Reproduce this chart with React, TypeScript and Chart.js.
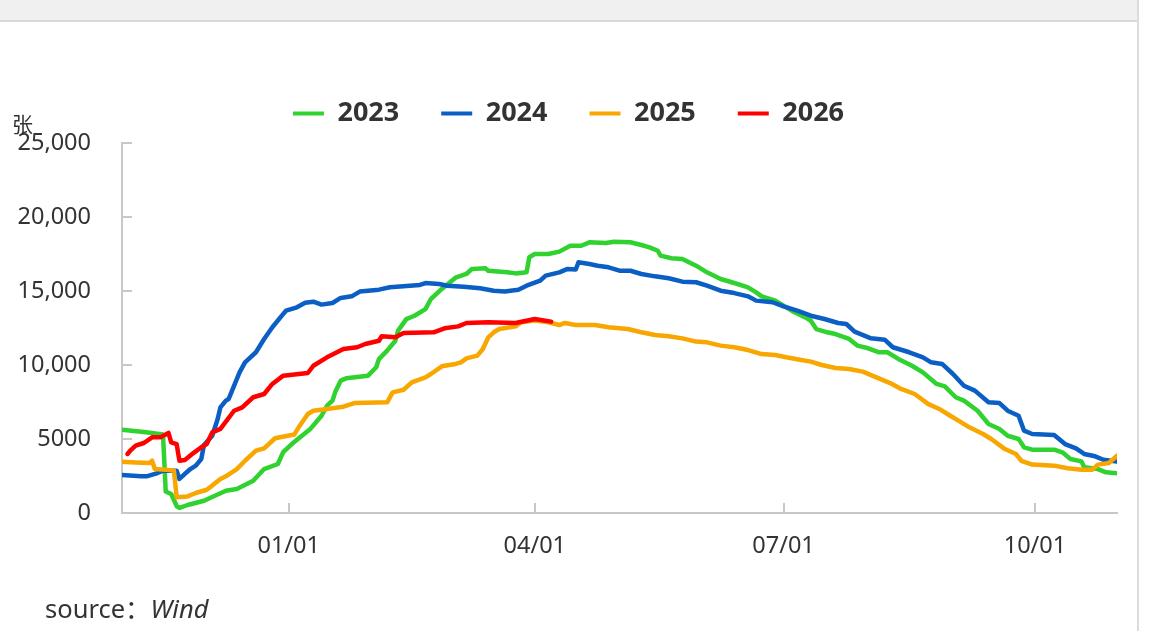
import React, { useEffect, useRef } from 'react';
import { Chart, registerables } from 'chart.js';

Chart.register(...registerables);

// ---- data ----
const seriesLabels = ['2023', '2024', '2025', '2026'];
const seriesColors = ['#30d22f', '#0b5fc4', '#f7a700', '#ff0000'];

const yTickValues = [0, 5000, 10000, 15000, 20000, 25000];
const yTickLabels = ['0', '5000', '10,000', '15,000', '20,000', '25,000'];
const xTickDates = ['01/01', '04/01', '07/01', '10/01'];
const xRange = ['11/01', '10/31'];

const data2023: [string, number][] = [
  ['11/01', 5630], ['11/09', 5470], ['11/16', 5300], ['11/17', 1450], ['11/19', 1280],
  ['11/21', 470], ['11/22', 340], ['11/25', 540], ['12/01', 830], ['12/09', 1500],
  ['12/13', 1620], ['12/19', 2180], ['12/23', 2970], ['12/28', 3310], ['12/30', 4120],
  ['01/03', 4800], ['01/09', 5700], ['01/13', 6570], ['01/15', 7250], ['01/17', 7590],
  ['01/18', 8170], ['01/20', 8940], ['01/22', 9100], ['01/30', 9280], ['02/02', 9850],
  ['02/03', 10400], ['02/06', 10970], ['02/09', 11640], ['02/10', 12320], ['02/13', 13100],
  ['02/16', 13330], ['02/20', 13780], ['02/22', 14460], ['02/26', 15140], ['03/01', 15590],
  ['03/03', 15900], ['03/07', 16150], ['03/09', 16490], ['03/14', 16530], ['03/15', 16370],
  ['03/22', 16260], ['03/25', 16190], ['03/29', 16260], ['03/30', 17280], ['04/01', 17500],
  ['04/06', 17500], ['04/10', 17660], ['04/14', 18060], ['04/18', 18060], ['04/21', 18290],
  ['04/27', 18240], ['04/30', 18330], ['05/06', 18290], ['05/10', 18110], ['05/13', 17950],
  ['05/16', 17720], ['05/17', 17390], ['05/21', 17210], ['05/25', 17160], ['05/30', 16710],
  ['06/03', 16260], ['06/08', 15810], ['06/13', 15540], ['06/18', 15250], ['06/21', 14910],
  ['06/23', 14640], ['06/28', 14350], ['07/01', 14010], ['07/05', 13560], ['07/09', 13220],
  ['07/11', 12990], ['07/13', 12430], ['07/17', 12210], ['07/20', 12090], ['07/25', 11760],
  ['07/28', 11310], ['08/01', 11130], ['08/05', 10860], ['08/08', 10860], ['08/12', 10410],
  ['08/17', 9950], ['08/21', 9500], ['08/26', 8720], ['08/29', 8560], ['09/02', 7820],
  ['09/05', 7590], ['09/10', 6910], ['09/14', 6010], ['09/18', 5680], ['09/21', 5220],
  ['09/25', 5000], ['09/27', 4440], ['09/30', 4280], ['10/08', 4280], ['10/11', 4100],
  ['10/14', 3650], ['10/18', 3490], ['10/19', 3090], ['10/24', 2970], ['10/27', 2750],
  ['10/31', 2680],
];

const data2024: [string, number][] = [
  ['11/01', 2570], ['11/08', 2480], ['11/10', 2480], ['11/14', 2700], ['11/16', 2860],
  ['11/21', 2860], ['11/22', 2300], ['11/24', 2640], ['11/26', 2970], ['11/28', 3200],
  ['11/30', 3650], ['12/01', 4600], ['12/04', 5220], ['12/06', 6350], ['12/07', 7140],
  ['12/09', 7590], ['12/10', 7700], ['12/14', 9500], ['12/16', 10180], ['12/20', 10860],
  ['12/23', 11760], ['12/26', 12550], ['12/30', 13450], ['12/31', 13670], ['01/04', 13900],
  ['01/07', 14200], ['01/10', 14280], ['01/13', 14080], ['01/17', 14190], ['01/20', 14530],
  ['01/24', 14640], ['01/27', 14960], ['02/03', 15090], ['02/07', 15250], ['02/18', 15410],
  ['02/20', 15540], ['02/25', 15470], ['02/28', 15360], ['03/06', 15290], ['03/12', 15180],
  ['03/17', 15020], ['03/21', 14960], ['03/26', 15090], ['03/29', 15360], ['04/03', 15700],
  ['04/05', 16040], ['04/10', 16260], ['04/13', 16490], ['04/16', 16450], ['04/17', 16940],
  ['04/21', 16820], ['04/24', 16710], ['04/28', 16600], ['05/02', 16370], ['05/06', 16370],
  ['05/10', 16150], ['05/15', 15990], ['05/20', 15860], ['05/25', 15630], ['05/30', 15590],
  ['06/03', 15360], ['06/08', 15020], ['06/13', 14860], ['06/18', 14640], ['06/21', 14350],
  ['06/27', 14240], ['07/01', 13960], ['07/06', 13670], ['07/11', 13330], ['07/16', 13110],
  ['07/21', 12840], ['07/24', 12770], ['07/27', 12250], ['08/02', 11800], ['08/07', 11710],
  ['08/10', 11200], ['08/16', 10860], ['08/21', 10520], ['08/24', 10180], ['08/28', 10070],
  ['09/01', 9390], ['09/05', 8600], ['09/09', 8270], ['09/14', 7480], ['09/18', 7430],
  ['09/21', 6910], ['09/25', 6570], ['09/27', 5560], ['09/30', 5340], ['10/08', 5270],
  ['10/12', 4660], ['10/16', 4370], ['10/19', 3990], ['10/23', 3830], ['10/26', 3600],
  ['10/31', 3470],
];

const data2025: [string, number][] = [
  ['11/01', 3470], ['11/06', 3420], ['11/11', 3380], ['11/12', 3530], ['11/13', 2970],
  ['11/17', 2930], ['11/20', 2860], ['11/21', 1060], ['11/25', 1120], ['11/28', 1350],
  ['12/02', 1570], ['12/04', 1850], ['12/07', 2300], ['12/09', 2480], ['12/13', 2970],
  ['12/16', 3530], ['12/20', 4210], ['12/23', 4370], ['12/27', 5050], ['01/03', 5300],
  ['01/05', 5900], ['01/08', 6690], ['01/10', 6910], ['01/15', 7030], ['01/21', 7180],
  ['01/25', 7430], ['02/06', 7480], ['02/08', 8150], ['02/12', 8330], ['02/15', 8830],
  ['02/20', 9160], ['02/22', 9390], ['02/26', 9910], ['03/03', 10070], ['03/05', 10180],
  ['03/07', 10450], ['03/11', 10630], ['03/13', 11080], ['03/15', 11870], ['03/17', 12210],
  ['03/19', 12430], ['03/25', 12610], ['03/27', 12890], ['04/01', 13000], ['04/06', 12890],
  ['04/10', 12700], ['04/12', 12840], ['04/16', 12700], ['04/23', 12700], ['04/28', 12550],
  ['05/05', 12430], ['05/10', 12210], ['05/15', 12030], ['05/20', 11940], ['05/25', 11800],
  ['05/30', 11580], ['06/03', 11530], ['06/08', 11310], ['06/13', 11200], ['06/18', 11010],
  ['06/23', 10740], ['06/28', 10680], ['07/02', 10520], ['07/07', 10360], ['07/11', 10230],
  ['07/15', 10000], ['07/20', 9800], ['07/25', 9730], ['07/30', 9550], ['08/04', 9160],
  ['08/09', 8780], ['08/13', 8380], ['08/18', 8040], ['08/23', 7360], ['08/27', 7030],
  ['08/31', 6570], ['09/03', 6240], ['09/07', 5790], ['09/12', 5340], ['09/15', 5000],
  ['09/20', 4320], ['09/24', 3990], ['09/26', 3530], ['09/30', 3270], ['10/08', 3200],
  ['10/13', 3020], ['10/18', 2930], ['10/22', 2930], ['10/24', 3270], ['10/28', 3380],
  ['10/31', 3870],
];

const data2026: [string, number][] = [
  ['11/03', 3990], ['11/04', 4210], ['11/06', 4550], ['11/09', 4730], ['11/12', 5110],
  ['11/15', 5110], ['11/18', 5410], ['11/19', 4770], ['11/21', 4660], ['11/22', 3530],
  ['11/24', 3580], ['11/27', 4030], ['11/30', 4440], ['12/02', 4660], ['12/04', 5450],
  ['12/07', 5680], ['12/12', 6910], ['12/15', 7140], ['12/19', 7820], ['12/23', 8040],
  ['12/26', 8720], ['12/30', 9280], ['01/08', 9460], ['01/10', 9950], ['01/15', 10520],
  ['01/21', 11080], ['01/26', 11200], ['01/29', 11420], ['02/03', 11640], ['02/04', 11940],
  ['02/09', 11870], ['02/12', 12160], ['02/23', 12210], ['02/27', 12480], ['03/04', 12610],
  ['03/07', 12840], ['03/15', 12890], ['03/25', 12840], ['04/01', 13110], ['04/07', 12930],
];

const seriesData = [data2023, data2024, data2025, data2026];

// season day index (Nov 1 = 0) from "MM/DD"
const monthStart: Record<string, number> = {
  '11': 0, '12': 30, '01': 61, '02': 92, '03': 120, '04': 151,
  '05': 181, '06': 212, '07': 242, '08': 273, '09': 304, '10': 334,
};
const dayOf = (md: string) => monthStart[md.slice(0, 2)] + Number(md.slice(3)) - 1;

const FONT = '"Noto Sans", "Open Sans", sans-serif';

const legendMargin = {
  id: 'legendMargin',
  beforeInit(chart: any) {
    const legend = chart.legend;
    if (!legend) return;
    const fit = legend.fit;
    legend.fit = function () {
      fit.call(this);
      this.height += 6;
    };
  },
};

const innerTicks = {
  id: 'innerTicks',
  beforeDatasetsDraw(chart: any) {
    const { ctx, chartArea, scales } = chart;
    ctx.save();
    ctx.strokeStyle = '#c8c8c8';
    ctx.lineWidth = 2;
    scales.y.ticks.forEach((t: any) => {
      const y = Math.round(scales.y.getPixelForValue(t.value));
      ctx.beginPath();
      ctx.moveTo(chartArea.left, y);
      ctx.lineTo(chartArea.left + 10, y);
      ctx.stroke();
    });
    scales.x.ticks.forEach((t: any) => {
      const x = Math.round(scales.x.getPixelForValue(t.value));
      ctx.beginPath();
      ctx.moveTo(x, chartArea.bottom);
      ctx.lineTo(x, chartArea.bottom - 10);
      ctx.stroke();
    });
    ctx.restore();
  },
};

export default function App() {
  const ref = useRef<HTMLCanvasElement>(null);

  useEffect(() => {
    if (!ref.current) return;
    const datasets = seriesLabels.map((label, i) => ({
      label,
      data: seriesData[i].map(([d, v]) => ({ x: dayOf(d), y: v })),
      borderColor: seriesColors[i],
      backgroundColor: seriesColors[i],
      borderWidth: 4.5,
      pointRadius: 0,
      pointHoverRadius: 0,
      tension: 0,
      fill: false,
      borderJoinStyle: 'round' as const,
      borderCapStyle: 'round' as const,
      order: seriesLabels.length - i,
    }));

    const chart = new Chart(ref.current, {
      type: 'line',
      data: { datasets },
      options: {
        animation: false,
        responsive: false,
        layout: { padding: { top: 58, right: 0, left: 0, bottom: 0 } },
        plugins: {
          tooltip: { enabled: false },
          legend: {
            display: true,
            position: 'top',
            labels: {
              boxWidth: 31,
              boxHeight: 4,
              padding: 42,
              color: '#333',
              font: { family: FONT, size: 27, weight: 'bold' },
              sort: (a: any, b: any) => a.datasetIndex - b.datasetIndex,
              generateLabels: (c: any) =>
                (Chart.defaults.plugins.legend.labels.generateLabels as any)(c).map((l: any) => ({
                  ...l,
                  lineWidth: 0,
                })),
            },
          },
        },
        scales: {
          x: {
            type: 'linear',
            min: dayOf(xRange[0]),
            max: dayOf(xRange[1]),
            grid: { display: true, drawOnChartArea: false, drawTicks: false },
            border: { display: true, color: '#c8c8c8', width: 2 },
            afterBuildTicks: (scale: any) => {
              scale.ticks = xTickDates.map((d) => ({ value: dayOf(d) }));
            },
            afterFit: (scale: any) => {
              scale.height = 118;
            },
            ticks: {
              autoSkip: false,
              maxRotation: 0,
              padding: 19,
              color: '#333',
              font: { family: FONT, size: 23.5 },
              callback: (value: any) => {
                const idx = xTickDates.findIndex((d) => dayOf(d) === value);
                return idx >= 0 ? xTickDates[idx] : '';
              },
            },
          },
          y: {
            type: 'linear',
            position: 'left',
            min: yTickValues[0],
            max: yTickValues[yTickValues.length - 1],
            grid: { display: true, drawOnChartArea: false, drawTicks: false },
            border: { display: true, color: '#c8c8c8', width: 2 },
            afterBuildTicks: (scale: any) => {
              scale.ticks = yTickValues.map((v) => ({ value: v }));
            },
            afterFit: (scale: any) => {
              scale.width = 122;
            },
            ticks: {
              padding: 31,
              color: '#333',
              font: { family: FONT, size: 23.5 },
              callback: (value: any) => {
                const idx = yTickValues.indexOf(Number(value));
                return idx >= 0 ? yTickLabels[idx] : '';
              },
            },
          },
          // empty right-hand spacer keeping the plot clear of the right edge
          yRight: {
            type: 'linear',
            position: 'right',
            display: true,
            grid: { display: false },
            border: { display: false },
            ticks: { display: false },
            afterFit: (scale: any) => {
              scale.width = 20;
            },
          },
        },
      },
      plugins: [legendMargin, innerTicks],
    } as any);

    return () => chart.destroy();
  }, []);

  return (
    <div
      style={{
        position: 'fixed',
        left: 0,
        top: 0,
        width: 1154,
        height: 631,
        background: '#ffffff',
        overflow: 'hidden',
        fontFamily: '"Noto Sans", "Noto Sans CJK SC", sans-serif',
      }}
    >
      <div style={{ position: 'absolute', left: 0, top: 0, width: 1137, height: 20, background: '#f0f0f0' }} />
      <div style={{ position: 'absolute', left: 0, top: 20, width: 1137, height: 2, background: '#d9d9d9' }} />
      <div style={{ position: 'absolute', left: 1137, top: 0, width: 2, height: 631, background: '#dcdcdc' }} />
      <canvas
        ref={ref}
        width={1137}
        height={631}
        style={{ position: 'absolute', left: 0, top: 0, width: 1137, height: 631 }}
      />
      <div
        style={{
          position: 'absolute',
          left: 12,
          top: 113,
          fontSize: 21,
          lineHeight: 1,
          color: '#333',
          fontFamily: '"Noto Sans CJK SC", sans-serif',
        }}
      >
        张
      </div>
      <div
        style={{
          position: 'absolute',
          left: 45,
          top: 596,
          fontSize: 25.5,
          lineHeight: 1,
          color: '#333',
          whiteSpace: 'nowrap',
        }}
      >
        source：<i>Wind</i>
      </div>
    </div>
  );
}
